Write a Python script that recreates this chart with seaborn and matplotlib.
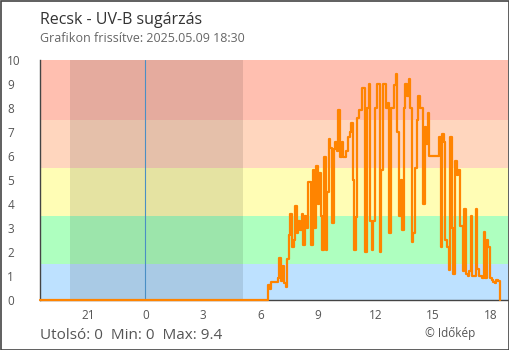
import numpy as np
import pandas as pd
import seaborn as sns
import matplotlib
matplotlib.use("Agg")
import matplotlib.pyplot as plt
from matplotlib.patches import Rectangle

# --- data -------------------------------------------------------------
station = "Recsk"
updated = "2025.05.09 18:30"

# hours relative to midnight of the current day (previous evening < 0)
window_start = -5.5
window_end = 18.92
night_start = -3.93          # sunset previous evening
night_end = 5.10             # sunrise
first_reading = 6.40         # first non-zero reading
last_reading = 18.48         # drop back to zero
step_minutes = 5

uv_values = [
    0.63, 0.46, 0.76, 0.76, 0.76, 0.76, 0.92, 1.75, 0.8, 1.42,
    0.7, 0.55, 1.7, 2.7, 3.6, 2.2, 2.5, 3.9, 2.8, 3.3,
    2.9, 3.6, 2.3, 3.5, 3.0, 4.93, 4.93, 2.3, 5.4, 3.0,
    5.6, 4.0, 5.3, 3.5, 2.1, 5.97, 2.1, 4.5, 6.7, 6.33,
    3.2, 6.3, 6.6, 6.2, 7.9, 5.97, 6.6, 5.97, 5.97, 6.2,
    6.8, 7.0, 7.37, 5.0, 2.08, 3.47, 7.6, 7.9, 7.9, 8.83,
    8.83, 2.0, 8.0, 9.0, 3.3, 2.1, 3.3, 8.0, 9.0, 9.0,
    2.0, 5.4, 9.0, 9.0, 8.0, 8.2, 2.8, 8.0, 8.0, 8.96,
    9.4, 7.0, 3.5, 5.0, 2.9, 8.0, 9.0, 8.5, 9.2, 8.0,
    2.4, 2.8, 5.5, 7.5, 8.5, 8.0, 8.0, 4.0, 7.2, 6.5,
    7.8, 6.0, 6.0, 6.0, 6.0, 6.0, 6.0, 6.8, 2.2, 6.9,
    6.6, 2.5, 2.2, 1.25, 6.8, 3.0, 1.1, 5.8, 5.2, 5.4,
    3.1, 3.1, 1.2, 3.8, 1.1, 1.0, 1.2, 3.5, 1.0, 1.0,
    3.8, 1.3, 1.0, 1.0, 0.9, 2.85, 0.9, 2.5, 2.2, 0.9,
    0.85, 0.75, 0.7, 0.85, 0.8,
]

tick_hours = [-3, 0, 3, 6, 9, 12, 15, 18]
tick_labels = ["21", "0", "3", "6", "9", "12", "15", "18"]
y_ticks = list(range(0, 11))

band_edges = [0, 1.5, 3.5, 5.5, 7.5, 10]
band_colors = ["#bde1ff", "#aeffbf", "#fffdb5", "#ffd6be", "#ffbfb0"]

# --- series -----------------------------------------------------------
day_hours = first_reading + np.arange(len(uv_values)) * step_minutes / 60
hours = np.concatenate([[window_start], day_hours, [last_reading]])
values = np.concatenate([[0.0], uv_values, [0.0]])
df = pd.DataFrame({"hour": hours, "uv": values})

# --- figure -----------------------------------------------------------
sns.set_theme(style="white")
plt.rcParams["font.family"] = ["Open Sans", "DejaVu Sans"]

W, H = 510, 350
fig = plt.figure(figsize=(W / 100, H / 100), dpi=100)
fig.patch.set_facecolor("white")
ax = fig.add_axes([40 / W, 1 - 300 / H, (508 - 40) / W, 240 / H])

for lo, hi, c in zip(band_edges[:-1], band_edges[1:], band_colors):
    ax.axhspan(lo, hi, color=c, lw=0, zorder=0)
ax.axvspan(night_start, night_end, color="black", alpha=0.1, lw=0, zorder=1)
ax.axvline(0, color="#4a8fc4", lw=0.8, zorder=2)

sns.lineplot(data=df, x="hour", y="uv", drawstyle="steps-post",
             color="#ff8400", lw=1.6, ax=ax, zorder=3, clip_on=False,
             estimator=None, sort=False)

ax.set_xlim(window_start, window_end)
ax.set_ylim(0, 10)
ax.set_xlabel("")
ax.set_ylabel("")

for side in ("top", "right"):
    ax.spines[side].set_visible(False)
for side in ("left", "bottom"):
    ax.spines[side].set_color("#444444")
    ax.spines[side].set_linewidth(1.0)

ax.set_xticks(tick_hours)
ax.set_xticklabels(tick_labels)
ax.set_yticks(y_ticks)
ax.tick_params(axis="both", direction="inout", length=9, width=1.0,
               color="#444444", labelcolor="#555555", labelsize=8.5)
ax.tick_params(axis="x", pad=2)
ax.tick_params(axis="y", pad=19)
for lab in ax.get_yticklabels():
    lab.set_horizontalalignment("left")

# --- texts ------------------------------------------------------------
fig.text(40 / W, 1 - 24 / H, f"{station} - UV-B sugárzás",
         fontsize=11.5, color="#333333", va="baseline")
fig.text(40 / W, 1 - 42 / H, f"Grafikon frissítve: {updated}",
         fontsize=9, color="#666666", va="baseline")
last_val = values[-1]
summary = (f"Utolsó: {last_val:g}  Min: {values.min():g}  "
           f"Max: {values.max():g}")
fig.text(40 / W, 1 - 339 / H, summary, fontsize=11, color="#555555",
         va="baseline")
fig.text(425 / W, 1 - 337 / H, "© Időkép", fontsize=8.5, color="#555555",
         va="baseline")

fig.patches.append(Rectangle((0.5 / W, 0.5 / H), 1 - 1 / W, 1 - 1 / H,
                             transform=fig.transFigure, fill=False,
                             edgecolor="#444444", lw=1.2))

fig.savefig("out.png", dpi=100)
